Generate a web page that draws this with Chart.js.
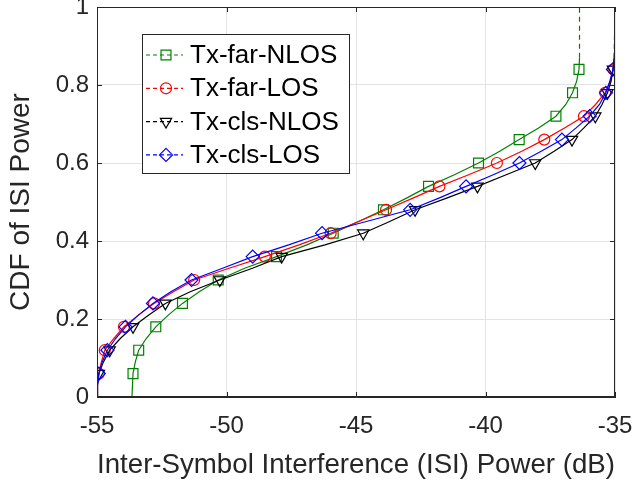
<!DOCTYPE html>
<html>
<head>
<meta charset="utf-8">
<title>CDF of ISI Power</title>
<script src="https://cdn.jsdelivr.net/npm/chart.js@4.4.1/dist/chart.umd.min.js"></script>
<style>
  html, body { margin: 0; padding: 0; background: #fff; }
</style>
</head>
<body>
<canvas id="isiChart" width="634" height="484"></canvas>
<script>
// CDF levels (0, 0.03, ... 0.87, then 1)
const cdfLevels = [0, 0.03, 0.06, 0.09, 0.12, 0.15, 0.18, 0.21, 0.24, 0.27, 0.30, 0.33, 0.36, 0.39, 0.42,
  0.45, 0.48, 0.51, 0.54, 0.57, 0.60, 0.63, 0.66, 0.69, 0.72, 0.75, 0.78, 0.81, 0.84, 0.87, 1.0];

// ISI power (dB) at each CDF level
const txFarNlos = [-53.65, -53.63, -53.61, -53.52, -53.39, -53.1, -52.73, -52.25, -51.70, -51.05, -50.32, -49.3,
  -48.07, -46.9, -45.88, -44.9, -43.94, -43.05, -42.20, -41.2, -40.27, -39.45, -38.70, -37.95, -37.28, -36.9,
  -36.64, -36.48, -36.39, -36.37, -36.37];
const txFarLos = [-55, -54.98, -54.93, -54.83, -54.70, -54.35, -53.96, -53.4, -52.80, -52.05, -51.25, -49.9,
  -48.52, -47.2, -45.98, -44.9, -43.84, -42.8, -41.78, -40.65, -39.56, -38.6, -37.73, -36.95, -36.2, -35.75,
  -35.38, -35.18, -35.06, -35.02, -35.0];
const txClsNlos = [-55, -54.98, -54.93, -54.75, -54.51, -54.1, -53.61, -53.0, -52.36, -51.4, -50.26, -49.0,
  -47.87, -46.2, -44.72, -43.7, -42.72, -41.5, -40.31, -39.2, -38.08, -37.35, -36.66, -36.2, -35.76, -35.5,
  -35.29, -35.15, -35.08, -35.03, -35.0];
const txClsLos = [-55, -54.98, -54.93, -54.8, -54.60, -54.28, -53.90, -53.4, -52.84, -52.15, -51.35, -50.15,
  -48.99, -47.6, -46.31, -44.6, -42.91, -41.8, -40.75, -39.7, -38.69, -37.85, -37.05, -36.5, -35.98, -35.6,
  -35.35, -35.2, -35.08, -35.02, -35.0];

const xTicks = [-55, -50, -45, -40, -35];
const yTicks = [0, 0.2, 0.4, 0.6, 0.8, 1];

const FONT = '"Liberation Sans", Arial, Helvetica, sans-serif';
const AXIS_COLOR = '#262626';

const seriesList = [
  { label: 'Tx-far-NLOS', xs: txFarNlos, color: '#008000', style: 'rect', radius: 7, rotation: 0 },
  { label: 'Tx-far-LOS', xs: txFarLos, color: '#ff0000', style: 'circle', radius: 5.5, rotation: 0 },
  { label: 'Tx-cls-NLOS', xs: txClsNlos, color: '#000000', style: 'triangle', radius: 6.5, rotation: 180 },
  { label: 'Tx-cls-LOS', xs: txClsLos, color: '#0000ff', style: 'rectRot', radius: 6.5, rotation: 0 }
];

// markers every 0.06 (even index from 0.06 up to 0.84)
function isMarker(i) {
  return i % 2 === 0 && i >= 2 && i <= 28;
}

const datasets = seriesList.map((s, k) => ({
  label: s.label,
  data: s.xs.map((x, i) => ({ x: x, y: cdfLevels[i] })),
  showLine: true,
  borderColor: s.color,
  borderWidth: 1.2,
  pointStyle: s.style,
  pointRotation: s.rotation,
  pointBorderColor: s.color,
  pointBackgroundColor: 'rgba(0,0,0,0)',
  pointBorderWidth: 1.2,
  pointRadius: ctx => isMarker(ctx.dataIndex) ? s.radius : 0,
  pointHoverRadius: 0,
  order: seriesList.length - k,
  segment: {
    // the long vertical tail of each CDF shows as dashed
    borderDash: ctx => {
      const dx = Math.abs(ctx.p1.x - ctx.p0.x), dy = Math.abs(ctx.p1.y - ctx.p0.y);
      return dx < 2 && dy > 30 ? [5, 4] : undefined;
    }
  }
}));

function drawMarker(ctx, style, x, y, r, rotation) {
  ctx.beginPath();
  if (style === 'rect') {
    const h = r * Math.SQRT1_2;
    ctx.rect(x - h, y - h, 2 * h, 2 * h);
  } else if (style === 'circle') {
    ctx.arc(x, y, r, 0, Math.PI * 2);
  } else if (style === 'triangle') {
    const dir = rotation === 180 ? 1 : -1;
    ctx.moveTo(x - r * 0.866, y - dir * r * 0.5);
    ctx.lineTo(x + r * 0.866, y - dir * r * 0.5);
    ctx.lineTo(x, y + dir * r);
    ctx.closePath();
  } else if (style === 'rectRot') {
    ctx.moveTo(x, y - r);
    ctx.lineTo(x + r, y);
    ctx.lineTo(x, y + r);
    ctx.lineTo(x - r, y);
    ctx.closePath();
  }
  ctx.stroke();
}

const frameAndLegend = {
  id: 'frameAndLegend',
  afterDatasetsDraw(chart) {
    const ctx = chart.ctx;
    const a = chart.chartArea;
    const xs = chart.scales.x, ys = chart.scales.y;
    ctx.save();
    ctx.strokeStyle = AXIS_COLOR;
    ctx.lineWidth = 1;
    ctx.setLineDash([]);
    ctx.strokeRect(a.left + 0.5, a.top + 0.5, a.right - a.left - 1, a.bottom - a.top - 1);
    const tl = 5;
    ctx.beginPath();
    xTicks.forEach(v => {
      const px = Math.round(xs.getPixelForValue(v)) + 0.5;
      ctx.moveTo(px, a.bottom); ctx.lineTo(px, a.bottom - tl);
      ctx.moveTo(px, a.top); ctx.lineTo(px, a.top + tl);
    });
    yTicks.forEach(v => {
      const py = Math.round(ys.getPixelForValue(v)) + 0.5;
      ctx.moveTo(a.left, py); ctx.lineTo(a.left + tl, py);
      ctx.moveTo(a.right, py); ctx.lineTo(a.right - tl, py);
    });
    ctx.stroke();

    // legend box
    const bx = a.left + 45, by = a.top + 27, bw = 207, bh = 139;
    ctx.fillStyle = '#fff';
    ctx.fillRect(bx, by, bw, bh);
    ctx.strokeStyle = AXIS_COLOR;
    ctx.strokeRect(bx + 0.5, by + 0.5, bw, bh);
    ctx.font = '26px ' + FONT;
    ctx.textBaseline = 'middle';
    ctx.textAlign = 'left';
    seriesList.forEach((s, i) => {
      const cy = by + 21 + i * 33.3;
      ctx.strokeStyle = s.color;
      ctx.lineWidth = 1.2;
      ctx.setLineDash([4, 3]);
      ctx.beginPath();
      ctx.moveTo(bx + 4, cy); ctx.lineTo(bx + 41, cy);
      ctx.stroke();
      ctx.setLineDash([]);
      drawMarker(ctx, s.style, bx + 24, cy, s.radius, s.rotation);
      ctx.fillStyle = '#000';
      ctx.fillText(s.label, bx + 48, cy + 1);
    });
    ctx.restore();
  }
};

new Chart(document.getElementById('isiChart'), {
  type: 'scatter',
  data: { datasets: datasets },
  options: {
    responsive: false,
    animation: false,
    devicePixelRatio: 1,
    layout: { padding: { left: 0, right: 19, top: 7, bottom: 0 } },
    plugins: { legend: { display: false }, tooltip: { enabled: false } },
    scales: {
      x: {
        type: 'linear',
        min: -55,
        max: -35,
        afterBuildTicks: s => { s.ticks = xTicks.map(v => ({ value: v })); },
        afterFit: s => { s.height = 87; s.paddingLeft = 0; s.paddingRight = 0; },
        grid: { color: '#e3e3e3', drawTicks: false },
        border: { color: AXIS_COLOR },
        ticks: { color: AXIS_COLOR, padding: 15, font: { family: FONT, size: 24 }, maxRotation: 0,
          callback: v => String(v) },
        title: {
          display: true,
          text: 'Inter-Symbol Interference (ISI) Power (dB)',
          color: AXIS_COLOR,
          font: { family: FONT, size: 28 },
          padding: { top: 0, bottom: 2 }
        }
      },
      y: {
        type: 'linear',
        min: 0,
        max: 1,
        afterBuildTicks: s => { s.ticks = yTicks.map(v => ({ value: v })); },
        afterFit: s => { s.width = 97; s.paddingTop = 0; s.paddingBottom = 0; },
        grid: { color: '#e3e3e3', drawTicks: false },
        border: { color: AXIS_COLOR },
        ticks: { color: AXIS_COLOR, padding: 8, font: { family: FONT, size: 24 },
          callback: v => String(Math.round(v * 10) / 10) },
        title: {
          display: true,
          text: 'CDF of ISI Power',
          color: AXIS_COLOR,
          font: { family: FONT, size: 28 },
          padding: { top: 4, bottom: 0 }
        }
      }
    }
  },
  plugins: [frameAndLegend]
});
</script>
</body>
</html>
